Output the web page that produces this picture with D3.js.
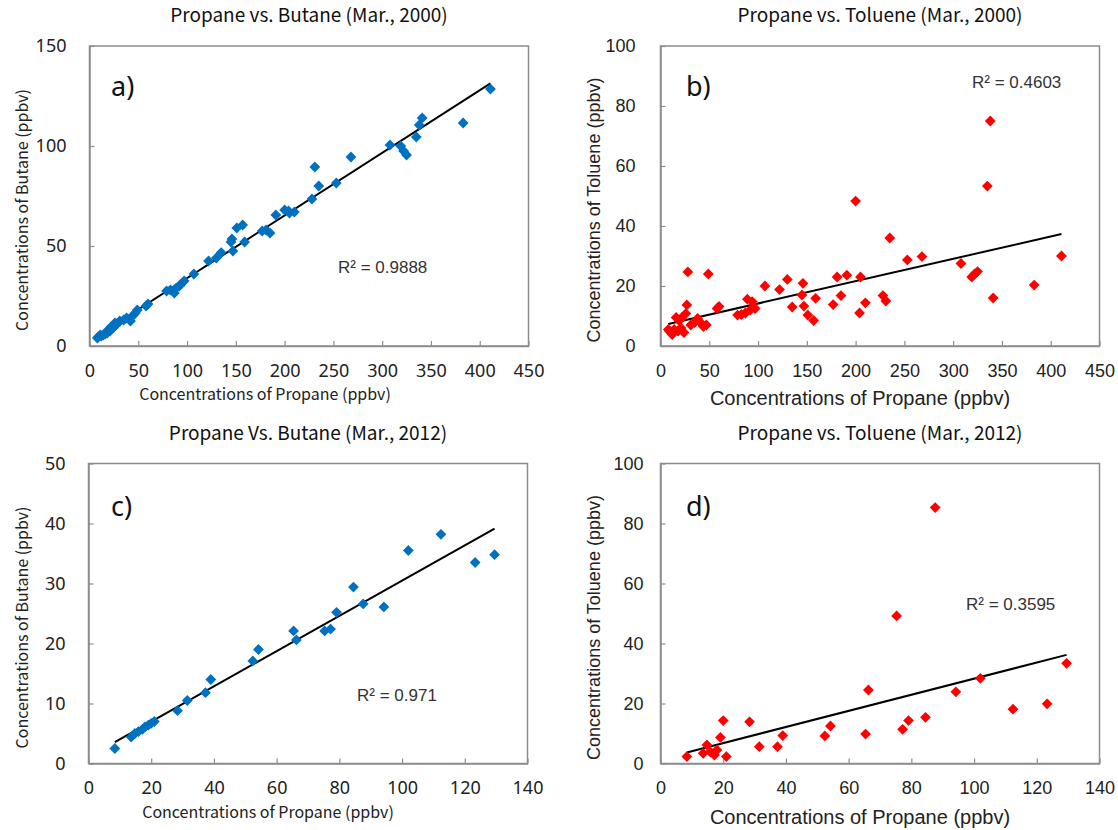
<!DOCTYPE html>
<html>
<head>
<meta charset="utf-8">
<script src="https://cdn.jsdelivr.net/npm/d3@7"></script>
<style>
  html, body { margin: 0; padding: 0; background: #fff; }
  svg { display: block; }
</style>
</head>
<body>
<script>
// ---- March 2000 samples (ppbv) ----
const propane2000 = [411, 383, 341, 338, 335, 325, 322, 319, 308, 268, 253, 235, 231, 228, 210, 205, 204, 200, 191, 185, 181, 177,
  159, 157, 151, 147, 146, 145, 135, 130, 122, 107, 97, 94, 92, 89, 87, 83, 79,
  60, 58, 49, 47, 44, 42, 38, 35, 31, 28, 27, 26, 24, 22, 21, 19, 18, 16, 14, 12, 11, 9, 8];
const butane2000 = [128.5, 111.5, 114, 110.5, 104.5, 95.5, 97.5, 100, 100.5, 94.5, 81.5, 80, 89.5, 73.5, 67, 66.5, 67.5, 68, 65.5, 56.5, 58, 57.5,
  52, 60.5, 59, 47.5, 53.5, 52, 46.7, 44, 42.5, 36, 32.5, 31, 30, 29, 26.5, 28, 27.5,
  21, 20, 18, 16.5, 15, 12.5, 14, 13, 12.5, 11, 10.5, 11.5, 9, 9.5, 7.5, 8, 6.5, 6, 5.5, 5, 5.5, 4.5, 4];
const toluene2000 = [30, 20.3, 16, 75, 53.3, 24.8, 24, 23, 27.5, 29.8, 28.7, 36, 15, 16.8, 14.4, 23, 11, 48.3, 23.6, 16.8, 23, 13.8,
  15.9, 8.5, 10.3, 13.3, 20.9, 17, 13, 22.2, 18.8, 20, 12.5, 14.8, 12, 15.6, 11, 10.5, 10.3,
  13.2, 12.5, 24, 7, 6.5, 7.5, 9.2, 7.8, 7, 24.7, 13.7, 10.8, 4.5, 9.5, 6, 8.5, 5, 9.5, 5.5, 3.8, 4.5, 5, 5.5];

// ---- March 2012 samples (ppbv) ----
const propane2012 = [129.5, 123.3, 112.4, 102, 94.2, 87.6, 84.5, 79.1, 77.2, 75.3, 66.3, 65.4, 54.2, 52.4,
  39, 37.3, 31.5, 28.4, 21, 20, 19.1, 18, 17.2, 15.9, 14.8, 13.6, 8.4];
const butane2012 = [34.8, 33.5, 38.2, 35.5, 26.1, 26.6, 29.4, 25.2, 22.4, 22.1, 20.6, 22.1, 19, 17.1,
  14, 11.8, 10.5, 8.8, 7, 6.7, 6.4, 6.1, 5.7, 5.3, 5, 4.4, 2.5];
const toluene2012 = [33.4, 19.9, 18.1, 28.4, 23.9, 85.3, 15.4, 14.3, 11.4, 49.2, 24.5, 9.8, 12.5, 9.2,
  9.3, 5.6, 5.6, 13.9, 2.3, 14.3, 8.7, 4.5, 2.8, 3.9, 6.2, 3.4, 2.3];

// ---- axis ticks ----
const ticksPropane2000 = [0, 50, 100, 150, 200, 250, 300, 350, 400, 450];
const ticksButane2000 = [0, 50, 100, 150];
const ticksPropane2012 = [0, 20, 40, 60, 80, 100, 120, 140];
const ticksButane2012 = [0, 10, 20, 30, 40, 50];
const ticksToluene = [0, 20, 40, 60, 80, 100];

// ---- text ----
const panelTitles = [
  "Propane vs. Butane (Mar., 2000)",
  "Propane vs. Toluene (Mar., 2000)",
  "Propane Vs. Butane (Mar., 2012)",
  "Propane vs. Toluene (Mar., 2012)"
];
const panelLetters = ["a)", "b)", "c)", "d)"];
const rSquared = ["0.9888", "0.4603", "0.971", "0.3595"];
const xTitle = "Concentrations of Propane (ppbv)";
const yTitles = [
  "Concentrations of Butane (ppbv)",
  "Concentrations of Toluene (ppbv)",
  "Concentrations of Butane (ppbv)",
  "Concentrations of Toluene (ppbv)"
];

const W = 1118, H = 830;
const PW = 439, PH = 300;
const BLUE = "#0070C0", RED = "#FF0000";
const SANS_A = "'Noto Sans CJK JP', 'Noto Sans', sans-serif";
const SANS_B = "'Liberation Sans', Arial, sans-serif";

const svg = d3.select("body").append("svg")
  .attr("width", W).attr("height", H)
  .style("background", "#fff");

const panels = [
  { xs: propane2000, ys: butane2000, xt: ticksPropane2000, yt: ticksButane2000, color: BLUE,
    left: 89.5, top: 46, tickFam: "'Noto Sans', sans-serif", titleFam: SANS_A, xSize: 16, ySize: 16,
    yPad: 23, xTitlePos: [265, 400], yTitleX: 28, r2: [338, 273], letter: [111, 96] },
  { xs: propane2000, ys: toluene2000, xt: ticksPropane2000, yt: ticksToluene, color: RED,
    left: 660.5, top: 46, tickFam: SANS_B, titleFam: SANS_B, xSize: 20, ySize: 18,
    yPad: 25, xTitlePos: [860, 405], yTitleX: 600, r2: [972, 88], letter: [686, 96] },
  { xs: propane2012, ys: butane2012, xt: ticksPropane2012, yt: ticksButane2012, color: BLUE,
    left: 88.5, top: 463.5, tickFam: "'Noto Sans', sans-serif", titleFam: SANS_A, xSize: 16, ySize: 16,
    yPad: 23, xTitlePos: [268, 818], yTitleX: 28, r2: [357, 701], letter: [111, 516] },
  { xs: propane2012, ys: toluene2012, xt: ticksPropane2012, yt: ticksToluene, color: RED,
    left: 660.5, top: 463.5, tickFam: SANS_B, titleFam: SANS_B, xSize: 20, ySize: 18,
    yPad: 17, xTitlePos: [860, 824], yTitleX: 600, r2: [966, 610], letter: [686, 516] }
];

// least-squares trend line
function linearFit(xs, ys) {
  const mx = d3.mean(xs), my = d3.mean(ys);
  let sxy = 0, sxx = 0;
  xs.forEach((x, i) => { sxy += (x - mx) * (ys[i] - my); sxx += (x - mx) * (x - mx); });
  const slope = sxy / sxx;
  return { slope, intercept: my - slope * mx };
}

const diamond = d3.symbol().type(d3.symbolSquare).size(58);

panels.forEach((p, i) => {
  const g = svg.append("g").attr("transform", `translate(${p.left},${p.top})`);
  const x = d3.scaleLinear().domain(d3.extent(p.xt)).range([0, PW]);
  const y = d3.scaleLinear().domain(d3.extent(p.yt)).range([PH, 0]);

  // plot frame
  g.append("rect").attr("x", 0).attr("y", 0).attr("width", PW).attr("height", PH)
    .attr("fill", "none").attr("stroke", "#8c8c8c").attr("stroke-width", 1.5);

  // axes with inside ticks
  const xAxis = g.append("g").attr("transform", `translate(0,${PH})`)
    .call(d3.axisBottom(x).tickValues(p.xt).tickSizeInner(-5).tickSizeOuter(0).tickPadding(18));
  const yAxis = g.append("g")
    .call(d3.axisLeft(y).tickValues(p.yt).tickSizeInner(-5).tickSizeOuter(0).tickPadding(p.yPad));
  [xAxis, yAxis].forEach(ax => {
    ax.select(".domain").attr("stroke", "#8c8c8c").attr("stroke-width", 1.5);
    ax.selectAll(".tick line").attr("stroke", "#8c8c8c").attr("stroke-width", 1.2);
    ax.selectAll(".tick text").attr("fill", "#222")
      .style("font-family", p.tickFam).style("font-size", "18px");
  });

  // trend line over the sampled range
  const fit = linearFit(p.xs, p.ys);
  const [x0, x1] = d3.extent(p.xs);
  g.append("line")
    .attr("x1", x(x0)).attr("y1", y(fit.intercept + fit.slope * x0))
    .attr("x2", x(x1)).attr("y2", y(fit.intercept + fit.slope * x1))
    .attr("stroke", "#000").attr("stroke-width", 2);

  // sample markers
  g.selectAll("path.pt").data(p.xs.map((v, k) => [v, p.ys[k]])).join("path")
    .attr("class", "pt")
    .attr("d", diamond)
    .attr("transform", d => `translate(${x(d[0])},${y(d[1])}) rotate(45)`)
    .attr("fill", p.color);

  // panel title
  svg.append("text")
    .attr("x", p.left + PW / 2).attr("y", p.top - 24)
    .attr("text-anchor", "middle")
    .style("font-family", SANS_A).style("font-size", "19px")
    .attr("fill", "#111").text(panelTitles[i]);

  // axis titles
  svg.append("text")
    .attr("x", p.xTitlePos[0]).attr("y", p.xTitlePos[1])
    .attr("text-anchor", "middle")
    .style("font-family", p.titleFam).style("font-size", p.xSize + "px")
    .attr("fill", "#222").text(xTitle);

  svg.append("text")
    .attr("transform", `translate(${p.yTitleX},${p.top + PH / 2 + 14}) rotate(-90)`)
    .attr("text-anchor", "middle")
    .style("font-family", p.titleFam).style("font-size", p.ySize + "px")
    .attr("fill", "#222").text(yTitles[i]);

  // panel letter and fit statistic
  svg.append("text")
    .attr("x", p.letter[0]).attr("y", p.letter[1])
    .style("font-family", "'Noto Sans', sans-serif").style("font-size", "27px")
    .attr("fill", "#111").text(panelLetters[i]);

  svg.append("text")
    .attr("x", p.r2[0]).attr("y", p.r2[1])
    .style("font-family", SANS_B).style("font-size", "17px")
    .attr("fill", "#333").text("R² = " + rSquared[i]);
});
</script>
</body>
</html>
